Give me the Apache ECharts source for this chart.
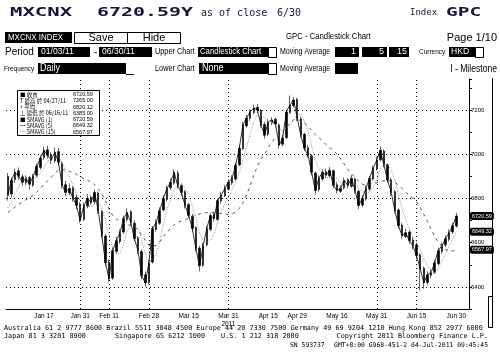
<!DOCTYPE html>
<html><head><meta charset="utf-8">
<script src="https://cdn.jsdelivr.net/npm/echarts@6/dist/echarts.min.js"></script>
<style>html,body{margin:0;padding:0;background:#fff}#c{width:500px;height:358px}</style>
</head><body><div id="c"></div>
<script>
const dates = [
'01/03','01/04','01/05','01/06','01/07','01/10','01/11','01/12','01/13','01/14','01/17','01/18','01/19','01/20','01/21','01/24','01/25','01/26','01/27','01/28','01/31',
'02/01','02/02','02/03','02/04','02/08','02/09','02/10','02/11','02/14','02/15','02/16','02/17','02/18','02/21','02/22','02/23','02/24','02/25','02/28',
'03/01','03/02','03/03','03/04','03/07','03/08','03/09','03/10','03/11','03/14','03/15','03/16','03/17','03/18','03/22','03/23','03/24','03/25','03/28','03/29','03/30','03/31',
'04/01','04/04','04/05','04/06','04/07','04/08','04/11','04/12','04/13','04/14','04/15','04/18','04/19','04/20','04/25','04/26','04/27','04/28','04/29',
'05/02','05/03','05/04','05/05','05/06','05/09','05/10','05/11','05/12','05/13','05/16','05/17','05/18','05/19','05/20','05/23','05/24','05/25','05/26','05/27','05/30','05/31',
'06/01','06/02','06/03','06/06','06/07','06/08','06/09','06/10','06/13','06/14','06/15','06/16','06/17','06/20','06/21','06/22','06/23','06/24','06/27','06/28','06/29','06/30'];

const opens = [
6900,6820,6885,6925,6898,6870,6895,6860,6905,6940,
6985,7020,6998,6970,7012,6960,6862,6825,6848,6805,
6770,6705,6765,6805,6785,6825,6740,6630,6512,6440,
6560,6605,6648,6705,6740,6688,6622,6560,6455,6420,
6512,6660,6688,6748,6795,6848,6870,6915,6858,6830,
6772,6720,6668,6575,6498,6590,6660,6728,6705,6788,
6812,6842,6870,6888,6952,7025,7128,7162,7188,7212,
7198,7135,7090,7142,7158,7132,7045,7075,7188,7220,
7248,7160,7090,7030,6992,6915,6840,6888,6922,6902,
6925,6862,6832,6848,6885,6855,6888,6832,6770,6798,
6842,6888,6932,6975,7015,6952,6885,6830,6748,6680,
6628,6648,6612,6590,6545,6485,6420,6452,6466,6505,
6560,6590,6615,6648,6675];

const highs = [
6915,6895,6935,6940,6910,6905,6902,6912,6958,6995,
7035,7038,7010,7030,7028,6968,6880,6868,6855,6818,
6785,6780,6820,6815,6840,6832,6748,6640,6525,6578,
6625,6660,6722,6755,6748,6700,6630,6570,6470,6520,
6675,6705,6760,6815,6858,6890,6932,6925,6868,6838,
6780,6730,6675,6585,6600,6675,6735,6740,6800,6830,
6860,6885,6905,6962,7040,7145,7178,7205,7225,7228,
7205,7145,7158,7168,7165,7140,7088,7200,7265,7258,
7255,7170,7098,7042,7000,6922,6905,6932,6935,6942,
6932,6875,6860,6895,6892,6905,6895,6840,6815,6858,
6902,6948,6990,7035,7022,6960,6892,6838,6755,6690,
6662,6655,6625,6598,6552,6492,6470,6480,6522,6578,
6600,6632,6660,6690,6735];

const lows = [
6790,6805,6870,6885,6855,6860,6840,6852,6895,6930,
6975,6980,6955,6962,6950,6845,6810,6815,6785,6750,
6690,6698,6755,6770,6775,6730,6620,6495,6420,6432,
6548,6595,6640,6695,6678,6605,6548,6435,6400,6410,
6505,6650,6680,6740,6785,6838,6862,6845,6812,6755,
6710,6650,6560,6470,6490,6582,6652,6695,6698,6775,
6805,6835,6860,6880,6945,7018,7120,7150,7180,7185,
7120,7070,7082,7132,7122,7025,7035,7068,7180,7210,
7150,7075,7015,6985,6905,6818,6830,6878,6892,6895,
6848,6822,6825,6840,6845,6848,6822,6752,6760,6790,
6835,6880,6925,6968,6940,6870,6812,6732,6665,6618,
6620,6595,6570,6525,6385,6392,6408,6440,6458,6498,
6550,6580,6605,6640,6668];

const closes = [
6814,6882,6918,6900,6873,6891,6864,6900,6945,6982,
7018,6995,6973,7009,6964,6859,6827,6845,6800,6768,
6700,6768,6800,6782,6827,6745,6632,6509,6436,6564,
6609,6645,6709,6736,6691,6618,6564,6450,6418,6509,
6664,6691,6745,6800,6845,6873,6918,6855,6827,6768,
6723,6664,6573,6495,6586,6664,6723,6709,6791,6814,
6845,6873,6891,6950,7027,7132,7164,7191,7209,7200,
7132,7086,7145,7155,7136,7041,7073,7191,7223,7245,
7164,7086,7027,6995,6918,6836,6891,6918,6905,6927,
6859,6836,6845,6882,6859,6891,6836,6768,6800,6845,
6891,6936,6973,7018,6950,6882,6827,6745,6677,6632,
6645,6609,6586,6541,6482,6418,6455,6464,6509,6564,
6586,6618,6645,6677,6720.59];

// closes of the 14 sessions before the period (estimated from where the averages start)
const priorCloses = [6700,6715,6730,6720,6735,6728,6730,6725,6740,6732,6745,6738,6742,6746];

const tickDates  = ['01/17','01/31','02/11','02/28','03/15','03/31','04/15','04/29','05/16','05/31','06/15','06/30'];
const tickLabels = ['Jan 17','Jan 31','Feb 11','Feb 28','Mar 15','Mar 31\n2011','Apr 15','Apr 29','May 16','May 31','Jun 15','Jun 30'];
const gridDates  = ['01/31','02/11','02/28','03/31','05/31','06/15'];
const gridValues = [7200,7000,6800,6400];
const maPeriods  = [1,5,15];

function sma(n){
  const all = priorCloses.concat(closes);
  return closes.map((_,i)=>{
    const end = i + priorCloses.length;
    let s = 0;
    for (let k = end-n+1; k <= end; k++) s += all[k];
    return +(s/n).toFixed(2);
  });
}
const ma1 = sma(maPeriods[0]), ma5 = sma(maPeriods[1]), ma15 = sma(maPeriods[2]);
const last = a => a[a.length-1];

let hiIdx = 0, loIdx = 0;
highs.forEach((v,i)=>{ if (v > highs[hiIdx]) hiIdx = i; });
lows.forEach((v,i)=>{ if (v < lows[loIdx]) loIdx = i; });
const avg = closes.reduce((a,b)=>a+b,0)/closes.length;

const chart = echarts.init(document.getElementById('c'), null, {renderer:'canvas'});

const MONO = '"DejaVu Sans Mono", monospace';
const SANS = '"Liberation Sans", Arial, sans-serif';

function txt(x, y, text, font, fill, opts) {
  opts = opts || {};
  return Object.assign({
    type:'text', x:x, y:y, z:100,
    style:{text:text, font:font, fill:fill||'#000', textAlign:opts.align||'left', textVerticalAlign:'middle'}
  }, opts.extra || {});
}
// condensed sans text (horizontally squeezed Liberation Sans)
function ntxt(x, y, text, size, fill, sx, align) {
  return txt(x, y, text, size + 'px ' + SANS, fill, {align: align, extra: {scaleX: sx}});
}
function box(x, y, w, h, fill, stroke) {
  return {type:'rect', z:99, shape:{x:x, y:y, width:w, height:h},
    style:{fill:fill, stroke:stroke||null, lineWidth: stroke?1:0}};
}
function line(x1,y1,x2,y2){
  return {type:'line', z:99, shape:{x1:x1,y1:y1,x2:x2,y2:y2}, style:{stroke:'#000', lineWidth:1}};
}

const fmt = v => v.toFixed(2);
const legendRows = [
  ['■ 收市', fmt(last(closes))],
  ['T 最高 於 ' + dates[hiIdx] + '/11', fmt(highs[hiIdx])],
  ['+ 平均', fmt(avg)],
  ['⊥ 最低 於 ' + dates[loIdx] + '/11', fmt(lows[loIdx])],
  ['■ SMAVG (' + maPeriods[0] + ')', fmt(last(ma1))],
  ['┅ SMAVG (' + maPeriods[1] + ')', fmt(last(ma5))],
  ['┈ SMAVG (' + maPeriods[2] + ')', fmt(last(ma15))]
];

const graphics = [
  // header row 1
  txt(10, 13, 'MXCNX', 'bold 12px ' + MONO, '#14143c', {extra:{scaleX:1.72}}),
  txt(97, 13, '6720.59Y', 'bold 12px ' + MONO, '#14143c', {extra:{scaleX:1.66}}),
  txt(201, 13, 'as of close', '10px ' + MONO, '#14143c'),
  txt(277, 13, '6/30', '10px ' + MONO, '#14143c'),
  txt(410, 13, 'Index', '9px ' + MONO, '#14143c'),
  txt(446, 13, 'GPC', 'bold 12px ' + MONO, '#14143c', {extra:{scaleX:1.62}}),
  // row 2
  box(5, 32, 67, 11, '#000'),
  ntxt(8, 37.5, 'MXCNX INDEX', 9, '#fff', 0.88),
  box(74.5, 32.5, 53, 11, '#fff', '#000'),
  box(127.5, 32.5, 53, 11, '#fff', '#000'),
  txt(101, 38, 'Save', '11px ' + SANS, '#000', {align:'center'}),
  txt(154, 38, 'Hide', '11px ' + SANS, '#000', {align:'center'}),
  ntxt(286, 37, 'GPC - Candlestick Chart', 9, '#000', 0.86),
  txt(497, 38, 'Page 1/10', '11px ' + SANS, '#000', {align:'right'}),
  // row 3
  txt(5, 52, 'Period', '10px ' + SANS, '#000'),
  box(38, 47, 52, 10, '#000'),
  ntxt(41, 52, '01/03/11', 9, '#fff', 0.95),
  txt(94, 52, '-', '10px ' + SANS, '#000'),
  box(99, 47, 53, 10, '#000'),
  ntxt(102, 52, '06/30/11', 9, '#fff', 0.95),
  ntxt(155, 52, 'Upper Chart', 8.5, '#000', 0.86),
  box(198, 47, 70, 10, '#000'),
  ntxt(200, 52, 'Candlestick Chart', 9, '#fff', 0.86),
  box(268.5, 47.5, 8, 10, '#fff', '#000'),
  ntxt(280, 52, 'Moving Average', 8.5, '#000', 0.82),
  box(335, 47, 24, 10, '#000'),
  ntxt(356, 52, String(maPeriods[0]), 9, '#fff', 1, 'right'),
  box(362, 47, 25, 10, '#000'),
  ntxt(384, 52, String(maPeriods[1]), 9, '#fff', 1, 'right'),
  box(389, 47, 20, 10, '#000'),
  ntxt(407, 52, String(maPeriods[2]), 9, '#fff', 1, 'right'),
  ntxt(419, 52, 'Currency', 7.5, '#000', 0.86),
  box(449, 47, 26, 10, '#000'),
  ntxt(451, 52, 'HKD', 9, '#fff', 0.95),
  box(475.5, 47.5, 8, 10, '#fff', '#000'),
  // row 4
  ntxt(4, 69, 'Frequency', 8, '#000', 0.8),
  box(38, 63, 88, 11, '#000'),
  ntxt(40, 68.5, 'Daily', 10, '#fff', 0.9),
  line(126, 74.5, 134, 74.5),
  ntxt(155, 69, 'Lower Chart', 8.5, '#000', 0.86),
  box(199, 63, 69, 11, '#000'),
  ntxt(202, 68.5, 'None', 10, '#fff', 0.9),
  box(268.5, 63.5, 8, 11, '#fff', '#000'),
  ntxt(280, 68.5, 'Moving Average', 8.5, '#000', 0.82),
  box(335, 63, 23, 11, '#000'),
  ntxt(497, 69, 'I - Milestone', 10, '#000', 0.86, 'right'),
  // right frame
  line(492.5, 78, 492.5, 328),
  box(488.5, 296.5, 4, 31, '#fff', '#000'),
  // legend box
  box(17.5, 90.5, 82, 45, '#fff', '#000'),
  // footer
  txt(4, 328, 'Australia 61 2 9777 8600 Brazil 5511 3048 4500 Europe 44 20 7330 7500 Germany 49 69 9204 1210 Hong Kong 852 2977 6000', '6.8px ' + MONO, '#000'),
  txt(4, 336.5, 'Japan 81 3 3201 8900', '6.8px ' + MONO, '#000'),
  txt(115, 336.5, 'Singapore 65 6212 1000', '6.8px ' + MONO, '#000'),
  txt(221, 336.5, 'U.S. 1 212 318 2000', '6.8px ' + MONO, '#000'),
  txt(488, 336.5, 'Copyright 2011 Bloomberg Finance L.P.', '6.8px ' + MONO, '#000', {align:'right'}),
  txt(290, 345, 'SN 593737', '6.4px ' + MONO, '#000'),
  txt(488, 345, 'GMT+8:00 G968-451-2 04-Jul-2011 09:45:45', '6.4px ' + MONO, '#000', {align:'right'})
];
legendRows.forEach((r, i) => {
  const y = 94.5 + i * 6.25;
  graphics.push(txt(20, y, r[0], '5.5px "Noto Sans CJK TC", ' + SANS, '#000', {extra:{z:101}}));
  graphics.push(txt(73, y, r[1], '5.5px ' + SANS, '#000', {extra:{z:101}}));
});

function endBox(value) {
  return {
    silent: true, symbol: 'none',
    lineStyle: {color: 'transparent', width: 0},
    label: {show: true, position: 'end', distance: 1, formatter: () => value.toFixed(2),
      backgroundColor: '#000', color: '#fff', fontSize: 5.5, fontFamily: SANS,
      padding: [1, 2], borderRadius: 2},
    data: [{yAxis: value}]
  };
}

const option = {
  animation: false,
  backgroundColor: '#fff',
  grid: {left: 6, right: 31, top: 79, bottom: 49},
  xAxis: {
    type: 'category', data: dates, max: dates.length + 2, boundaryGap: true,
    axisLine: {lineStyle: {color: '#000', width: 1}},
    axisTick: {show: false},
    splitLine: {show: false},
    axisLabel: {
      interval: (i, v) => tickDates.indexOf(v) >= 0,
      formatter: v => { const k = tickDates.indexOf(v); return k >= 0 ? tickLabels[k] : ''; },
      color: '#000', fontSize: 6.5, fontFamily: SANS, margin: 3, lineHeight: 8
    }
  },
  yAxis: {
    type: 'value', position: 'right', min: 6300, max: 7340, interval: 100, scale: true,
    axisLine: {show: true, lineStyle: {color: '#000', width: 1}},
    axisTick: {show: true, length: 3, lineStyle: {color: '#000'}},
    splitLine: {show: false},
    axisLabel: {
      formatter: v => (v % 200 === 0 && v <= 7200) ? String(v) : '',
      color: '#000', fontSize: 6, fontFamily: SANS, margin: 2
    }
  },
  graphic: graphics,
  series: [
    {
      type: 'candlestick', name: 'MXCNX',
      data: dates.map((d, i) => [opens[i], closes[i], lows[i], highs[i]]),
      barWidth: 2,
      itemStyle: {color: '#000', color0: '#000', borderColor: '#000', borderColor0: '#000', borderWidth: 0.6},
      markLine: {
        silent: true, symbol: 'none', label: {show: false},
        lineStyle: {color: '#000', type: [1, 3], width: 1},
        data: gridValues.map(v => ({yAxis: v})).concat(gridDates.map(d => ({xAxis: d})))
      }
    },
    {type: 'line', name: 'SMAVG (1)', data: ma1, symbol: 'none', lineStyle: {color: '#000', width: 0.8}, z: 3, markLine: endBox(last(ma1))},
    {type: 'line', name: 'SMAVG (5)', data: ma5, symbol: 'none', lineStyle: {color: '#8a8a8a', width: 1, type: [1, 1.5]}, z: 3, markLine: endBox(last(ma5))},
    {type: 'line', name: 'SMAVG (15)', data: ma15, symbol: 'none', lineStyle: {color: '#555', width: 1, type: [3, 4]}, z: 3, markLine: endBox(last(ma15))}
  ]
};
chart.setOption(option);
</script>
</body></html>
